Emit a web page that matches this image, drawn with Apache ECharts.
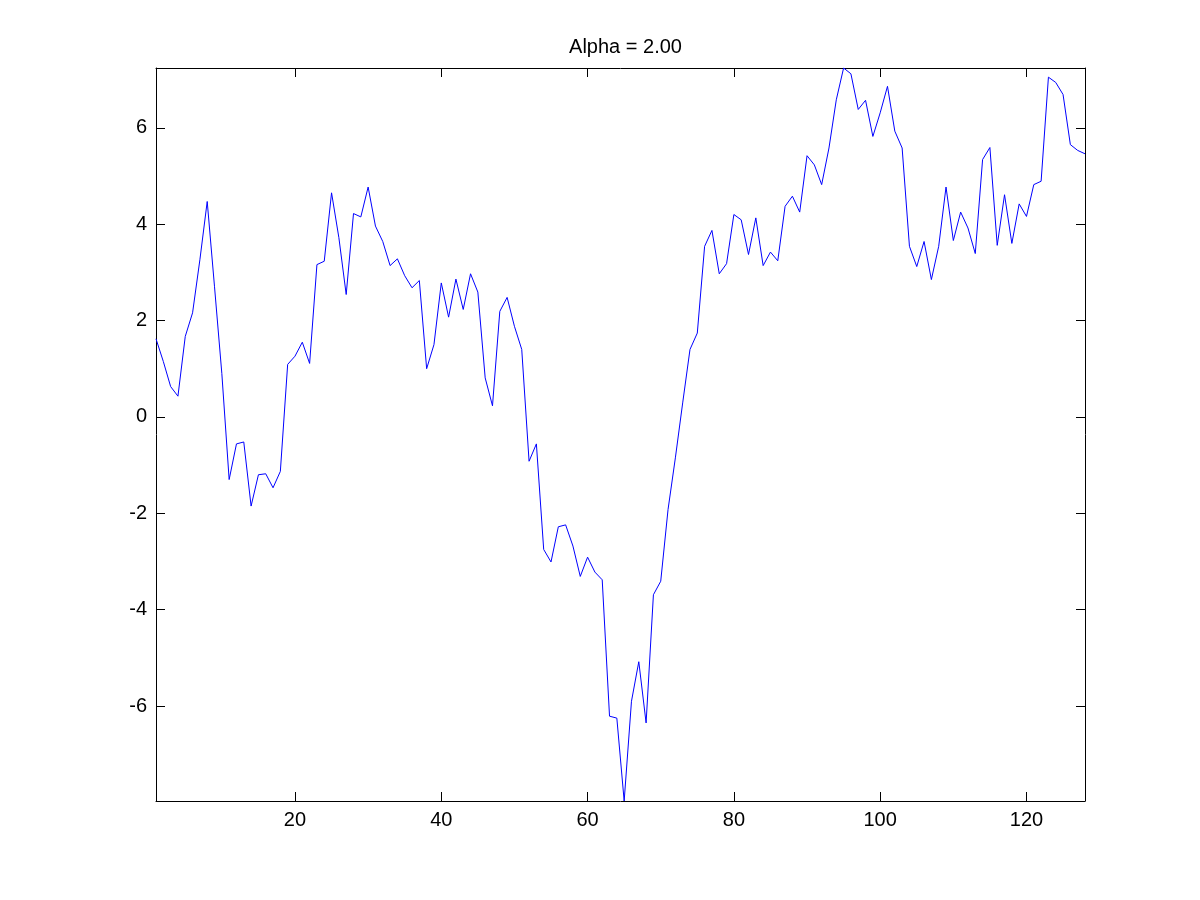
<!DOCTYPE html>
<html>
<head>
<meta charset="utf-8">
<style>
  html, body { margin: 0; padding: 0; background: #ffffff; }
  #chart { width: 1200px; height: 900px; }
</style>
<script src="https://cdn.jsdelivr.net/npm/echarts@6/dist/echarts.min.js"></script>
</head>
<body>
<div id="chart"></div>
<script>
const titleText = 'Alpha = 2.00';

const seriesValues = [
  1.62, 1.15, 0.63, 0.43, 1.67, 2.16, 3.26, 4.47, 2.70, 0.90,
  -1.30, -0.56, -0.52, -1.85, -1.20, -1.18, -1.47, -1.13, 1.09, 1.26,
  1.55, 1.11, 3.16, 3.23, 4.65, 3.72, 2.54, 4.22, 4.15, 4.77,
  3.96, 3.64, 3.14, 3.28, 2.93, 2.68, 2.83, 1.00, 1.50, 2.78,
  2.07, 2.86, 2.23, 2.97, 2.59, 0.81, 0.23, 2.19, 2.48, 1.88,
  1.40, -0.92, -0.56, -2.75, -3.01, -2.28, -2.24, -2.68, -3.31, -2.91,
  -3.22, -3.38, -6.21, -6.25, -7.97, -5.90, -5.08, -6.35, -3.69, -3.41,
  -1.92, -0.85, 0.29, 1.40, 1.74, 3.54, 3.87, 2.97, 3.18, 4.20,
  4.09, 3.37, 4.13, 3.14, 3.42, 3.24, 4.37, 4.58, 4.25, 5.42,
  5.23, 4.82, 5.58, 6.58, 7.24, 7.12, 6.38, 6.57, 5.82, 6.31,
  6.86, 5.93, 5.58, 3.54, 3.12, 3.64, 2.85, 3.54, 4.77, 3.66,
  4.25, 3.92, 3.39, 5.34, 5.59, 3.56, 4.61, 3.60, 4.42, 4.16,
  4.82, 4.89, 7.05, 6.94, 6.69, 5.65, 5.53, 5.46
];

const xTickValues = [20, 40, 60, 80, 100, 120];
const yTickValues = [-6, -4, -2, 0, 2, 4, 6];

const sampleIndex = seriesValues.map((_, i) => i + 1);
const points = seriesValues.map((v, i) => [sampleIndex[i], v]);

const xMin = sampleIndex[0];
const xMax = sampleIndex[sampleIndex.length - 1];
const yMin = Math.min.apply(null, seriesValues);
const yMax = Math.max.apply(null, seriesValues);

const fontFamily = '"Liberation Sans", Arial, Helvetica, sans-serif';
const labelStyle = { color: '#000000', fontSize: 20, fontFamily: fontFamily };

function xAxisDef(position, showLabels) {
  return {
    type: 'value',
    position: position,
    min: xMin,
    max: xMax,
    splitLine: { show: false },
    axisLine: { show: true, onZero: false, lineStyle: { color: '#000000', width: 1 } },
    axisTick: { show: true, inside: true, length: 9, customValues: xTickValues,
                lineStyle: { color: '#000000', width: 1 } },
    axisLabel: Object.assign({ show: showLabels, margin: 9, customValues: xTickValues }, labelStyle)
  };
}
function yAxisDef(position, showLabels) {
  return {
    type: 'value',
    position: position,
    min: yMin,
    max: yMax,
    splitLine: { show: false },
    axisLine: { show: true, onZero: false, lineStyle: { color: '#000000', width: 1 } },
    axisTick: { show: true, inside: true, length: 9, customValues: yTickValues,
                lineStyle: { color: '#000000', width: 1 } },
    axisLabel: Object.assign({ show: showLabels, margin: 9, customValues: yTickValues }, labelStyle)
  };
}

const chart = echarts.init(document.getElementById('chart'), null, { renderer: 'canvas' });
chart.setOption({
  animation: false,
  backgroundColor: '#ffffff',
  title: {
    text: titleText,
    left: 620.5,
    textAlign: 'center',
    top: 32,
    textStyle: { color: '#000000', fontSize: 20, fontWeight: 'normal', fontFamily: fontFamily }
  },
  grid: { left: 156, right: 115, top: 68, bottom: 99, containLabel: false },
  xAxis: [xAxisDef('bottom', true), xAxisDef('top', false)],
  yAxis: [yAxisDef('left', true), yAxisDef('right', false)],
  series: [{
    type: 'line',
    xAxisIndex: 0,
    yAxisIndex: 0,
    data: points,
    symbol: 'none',
    lineStyle: { color: '#0000ff', width: 1 },
    itemStyle: { color: '#0000ff' }
  }]
});
</script>
</body>
</html>
